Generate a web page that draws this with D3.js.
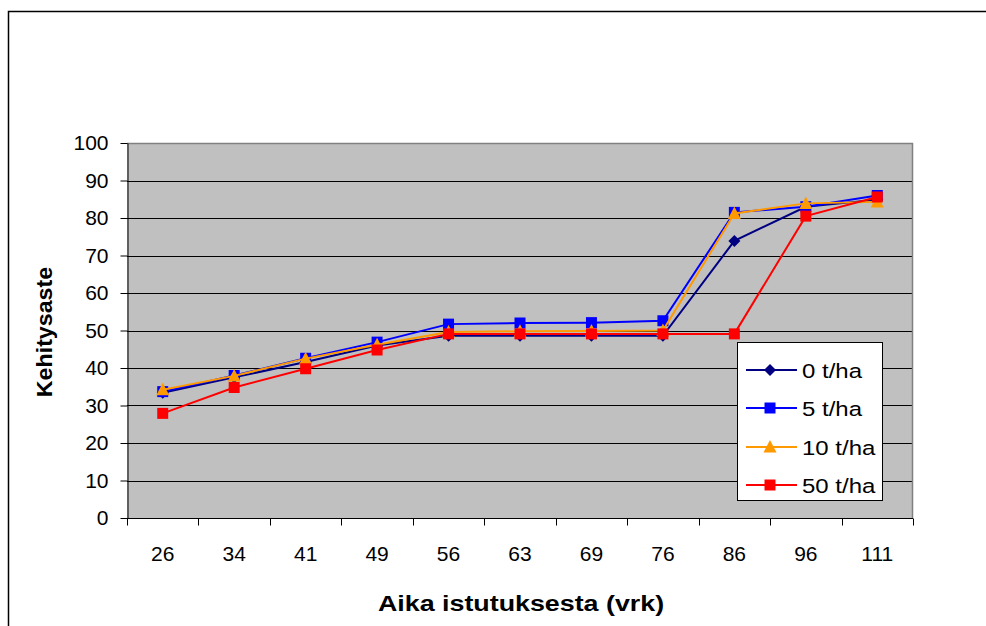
<!DOCTYPE html>
<html>
<head>
<meta charset="utf-8">
<script src="https://cdn.jsdelivr.net/npm/d3@7"></script>
<style>
  html, body { margin: 0; padding: 0; background: #fff; }
  svg { display: block; font-family: "Liberation Sans", Arial, sans-serif; }
</style>
</head>
<body>
<svg id="chart" width="986" height="626"></svg>
<script>
// Days since planting (category axis)
const days = ["26", "34", "41", "49", "56", "63", "69", "76", "86", "96", "111"];

// Development stage per treatment
const s0 = [33.4, 37.5, 41.6, 46.0, 48.6, 48.6, 48.6, 48.6, 73.9, 83.0, 84.9];
const s5 = [33.7, 38.0, 42.6, 46.9, 51.7, 52.0, 52.1, 52.6, 81.5, 83.0, 86.0];
const s10 = [34.2, 37.9, 42.5, 46.2, 49.6, 49.8, 49.9, 50.0, 81.2, 83.9, 84.3];
const s50 = [27.9, 34.8, 39.8, 44.8, 49.1, 49.1, 49.1, 49.1, 49.1, 80.5, 85.6];

const seriesNames = ["0 t/ha", "5 t/ha", "10 t/ha", "50 t/ha"];
const yTicks = [0, 10, 20, 30, 40, 50, 60, 70, 80, 90, 100];

const series = [
  { name: seriesNames[0], values: s0, color: "#000080", marker: "diamond" },
  { name: seriesNames[1], values: s5, color: "#0000FF", marker: "square" },
  { name: seriesNames[2], values: s10, color: "#FF9900", marker: "triangle" },
  { name: seriesNames[3], values: s50, color: "#FF0000", marker: "square" }
];

const svg = d3.select("#chart");
const plot = { left: 127, right: 913, top: 143, bottom: 518 };

// Outer chart frame (extends past the right and bottom edges)
svg.append("path")
  .attr("d", "M8.5,640 L8.5,11.5 L1000,11.5")
  .attr("fill", "none").attr("stroke", "#000").attr("stroke-width", 1.5);

const x = d3.scaleBand().domain(days).range([plot.left, plot.right]);
const y = d3.scaleLinear().domain([0, 100]).range([plot.bottom, plot.top]);

// Plot background
svg.append("rect")
  .attr("x", plot.left).attr("y", plot.top)
  .attr("width", plot.right - plot.left).attr("height", plot.bottom - plot.top)
  .attr("fill", "#C0C0C0");

// Horizontal gridlines
svg.append("g").selectAll("line")
  .data(yTicks.filter(d => d > 0 && d < 100))
  .join("line")
  .attr("x1", plot.left).attr("x2", plot.right)
  .attr("y1", d => Math.round(y(d)) + 0.5).attr("y2", d => Math.round(y(d)) + 0.5)
  .attr("stroke", "#000").attr("stroke-width", 1);

// Plot border: grey top and right
svg.append("path")
  .attr("d", `M${plot.left},${plot.top + 0.5} L${plot.right - 0.5},${plot.top + 0.5} L${plot.right - 0.5},${plot.bottom}`)
  .attr("fill", "none").attr("stroke", "#808080").attr("stroke-width", 1.5);

// Y axis
const yAxis = svg.append("g")
  .attr("transform", `translate(${plot.left + 0.5},0)`)
  .call(d3.axisLeft(y).tickValues(yTicks).tickSize(7).tickPadding(12).tickSizeOuter(0));
yAxis.select(".domain").attr("stroke", "#000");
yAxis.selectAll(".tick line").attr("stroke", "#000");
yAxis.selectAll("text").attr("font-size", 21).attr("fill", "#000")
  .attr("font-family", "Liberation Sans, Arial, sans-serif");

// X axis: ticks sit on the category boundaries
const xAxisG = svg.append("g").attr("transform", `translate(0,${plot.bottom + 0.5})`);
xAxisG.append("line")
  .attr("x1", plot.left).attr("x2", plot.right)
  .attr("stroke", "#000").attr("stroke-width", 1);
const boundaries = days.map(d => x(d)).concat([x(days[days.length - 1]) + x.bandwidth()]);
xAxisG.selectAll("line.tk").data(boundaries).join("line")
  .attr("class", "tk")
  .attr("x1", d => Math.round(d) + 0.5).attr("x2", d => Math.round(d) + 0.5)
  .attr("y1", 0).attr("y2", 7)
  .attr("stroke", "#000");
xAxisG.selectAll("text").data(days).join("text")
  .attr("x", d => x(d) + x.bandwidth() / 2)
  .attr("y", 42.5)
  .attr("text-anchor", "middle")
  .attr("font-size", 21)
  .text(d => d);

// Axis titles
svg.append("text")
  .attr("transform", `translate(${(plot.left + plot.right) / 2 + 1},611) scale(1.22,1)`)
  .attr("text-anchor", "middle").attr("font-size", 22).attr("font-weight", "bold")
  .text("Aika istutuksesta (vrk)");
svg.append("text")
  .attr("transform", `translate(51.5,332) rotate(-90) scale(1.08,1)`)
  .attr("text-anchor", "middle").attr("font-size", 21.5).attr("font-weight", "bold")
  .text("Kehitysaste");

// Marker shapes
function markerPath(type) {
  if (type === "diamond") return "M0,-6 L6,0 L0,6 L-6,0 Z";
  if (type === "square") return "M-5.5,-5.5 L5.5,-5.5 L5.5,5.5 L-5.5,5.5 Z";
  if (type === "triangle") return "M0,-7 L6.5,5.5 L-6.5,5.5 Z";
  return "";
}

const cx = d => x(d) + x.bandwidth() / 2;
const line = d3.line().x((v, i) => cx(days[i])).y(v => y(v));

const gSeries = svg.append("g");
series.forEach(s => {
  const g = gSeries.append("g");
  g.append("path")
    .attr("d", line(s.values))
    .attr("fill", "none").attr("stroke", s.color).attr("stroke-width", 2);
  g.selectAll("path.m").data(s.values).join("path")
    .attr("class", "m")
    .attr("transform", (v, i) => `translate(${cx(days[i])},${y(v)})`)
    .attr("d", markerPath(s.marker))
    .attr("fill", s.color);
});

// Legend
const legend = svg.append("g");
legend.append("rect")
  .attr("x", 737.5).attr("y", 342.5).attr("width", 145).attr("height", 158)
  .attr("fill", "#fff").attr("stroke", "#000").attr("stroke-width", 1);
const rowY = [370, 408, 447, 485];
series.forEach((s, i) => {
  const row = legend.append("g").attr("transform", `translate(0,${rowY[i]})`);
  row.append("line").attr("x1", 746).attr("x2", 797).attr("y1", 0).attr("y2", 0)
    .attr("stroke", s.color).attr("stroke-width", 2);
  row.append("path").attr("transform", "translate(770,0)")
    .attr("d", markerPath(s.marker)).attr("fill", s.color);
  row.append("text").attr("transform", "translate(802,7.5) scale(1.17,1)")
    .attr("font-size", 20.5).text(s.name);
});
</script>
</body>
</html>
